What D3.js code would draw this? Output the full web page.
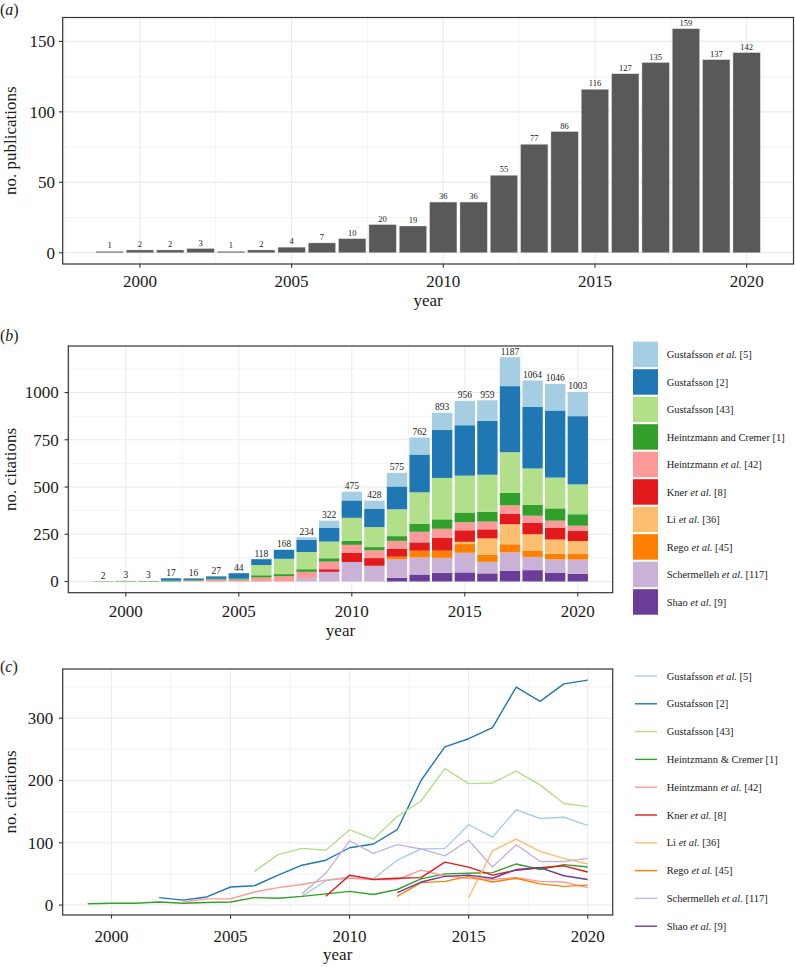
<!DOCTYPE html>
<html><head><meta charset="utf-8">
<script src="https://cdn.jsdelivr.net/npm/d3@7"></script>
<style>
body{margin:0;background:#fff}
svg text{fill:#1a1a1a}
</style>
</head><body>
<svg id="chart" width="795" height="967" xmlns="http://www.w3.org/2000/svg" font-family="'Liberation Serif', 'DejaVu Serif', serif"></svg>
<script>
// ---------- DATA ----------
const years = [1999,2000,2001,2002,2003,2004,2005,2006,2007,2008,2009,2010,2011,2012,2013,2014,2015,2016,2017,2018,2019,2020];
const publications = [1,2,2,3,1,2,4,7,10,20,19,36,36,55,77,86,116,127,135,159,137,142];
const citationTotals = [2,3,3,17,16,27,44,118,168,234,322,475,428,575,762,893,956,959,1187,1064,1046,1003];

const seriesKeys = ["gustafssonEtAl5","gustafsson2","gustafsson43","heintzmannCremer1","heintzmannEtAl42","kner8","li36","rego45","schermelleh117","shao9"];
const seriesLabelsBar = ["Gustafsson et al. [5]","Gustafsson [2]","Gustafsson [43]","Heintzmann and Cremer [1]","Heintzmann et al. [42]","Kner et al. [8]","Li et al. [36]","Rego et al. [45]","Schermelleh et al. [117]","Shao et al. [9]"];
const seriesLabelsLine = ["Gustafsson et al. [5]","Gustafsson [2]","Gustafsson [43]","Heintzmann & Cremer [1]","Heintzmann et al. [42]","Kner et al. [8]","Li et al. [36]","Rego et al. [45]","Schermelleh et al. [117]","Shao et al. [9]"];
const seriesColors = ["#A6CEE3","#1F78B4","#B2DF8A","#33A02C","#FB9A99","#E31A1C","#FDBF6F","#FF7F00","#CAB2D6","#6A3D9A"];

//                        1999 2000 2001 2002 2003 2004 2005 2006 2007 2008 2009 2010 2011 2012 2013 2014 2015 2016 2017 2018 2019 2020
const gustafssonEtAl5   = [null,null,null,null,null,null,null,null,null,  14,  39,  46,  42,  72,  90,  91, 129, 109, 153, 139, 141, 128];
const gustafsson2       = [null,null,null,  12,   8,  13,  29,  31,  48,  64,  72,  92,  98, 121, 200, 254, 267, 285, 350, 327, 355, 361];
const gustafsson43      = [null,null,null,null,null,null,null,  54,  81,  91,  88, 121, 106, 142, 167, 219, 195, 196, 215, 193, 163, 158];
const heintzmannCremer1 = [   2,   3,   3,   5,   3,   4,   5,  12,  11,  14,  18,  22,  17,  25,  42,  50,  51,  52,  66,  57,  65,  61];
const heintzmannEtAl42  = [null,null,null,null,   5,  10,  10,  21,  28,  33,  40,  43,  41,  41,  56,  47,  43,  41,  44,  38,  37,  28];
const kner8             = [null,null,null,null,null,null,null,null,null,null,  14,  48,  41,  43,  44,  69,  61,  48,  56,  60,  63,  53];
const li36              = [null,null,null,null,null,null,null,null,null,null,null,null,null,null,null,null,  12,  87, 106,  86,  75,  66];
const rego45            = [null,null,null,null,null,null,null,null,null,null,null,null,null,  14,  36,  38,  46,  37,  43,  34,  30,  32];
const schermelleh117    = [null,null,null,null,null,null,null,null,null,  18,  51, 103,  83,  97,  90,  79, 104,  61,  97,  70,  70,  75];
const shao9             = [null,null,null,null,null,null,null,null,null,null,null,null,null,  20,  37,  46,  48,  43,  57,  60,  47,  41];

const seriesValues = [gustafssonEtAl5,gustafsson2,gustafsson43,heintzmannCremer1,heintzmannEtAl42,kner8,li36,rego45,schermelleh117,shao9];

const xTicks = [2000,2005,2010,2015,2020];
const xMinor = [1997.5,2002.5,2007.5,2012.5,2017.5];
const pubTicks = [0,50,100,150];
const pubMinor = [25,75,125];
const citeTicks = [0,250,500,750,1000];
const citeMinor = [125,375,625,875,1125];
const lineTicks = [0,100,200,300];
const lineMinor = [50,150,250,350];

// ---------- HELPERS ----------
const FONT = "'Liberation Serif', 'DejaVu Serif', serif";
const svg = d3.select("#chart");
svg.append("rect").attr("width",795).attr("height",967).attr("fill","#fff");
const BORDER = "#333333";
const GRID = "#EBEBEB";

function txt(g){ return g.append("text").attr("font-family",FONT); }
function expandDomain(lo, hi){ const e=(hi-lo)*0.05; return [lo-e, hi+e]; }

function drawGrid(g, x, y, xt, xm, yt, ym){
  const [x0,x1]=x.range(), [y0,y1]=y.range();
  ym.filter(v=>v>=y.domain()[0]&&v<=y.domain()[1]).forEach(v=>g.append("line").attr("x1",x0).attr("x2",x1).attr("y1",y(v)).attr("y2",y(v)).attr("stroke",GRID).attr("stroke-width",0.6));
  xm.filter(v=>v>=x.domain()[0]&&v<=x.domain()[1]).forEach(v=>g.append("line").attr("y1",y0).attr("y2",y1).attr("x1",x(v)).attr("x2",x(v)).attr("stroke",GRID).attr("stroke-width",0.6));
  yt.forEach(v=>g.append("line").attr("x1",x0).attr("x2",x1).attr("y1",y(v)).attr("y2",y(v)).attr("stroke",GRID).attr("stroke-width",1.1));
  xt.forEach(v=>g.append("line").attr("y1",y0).attr("y2",y1).attr("x1",x(v)).attr("x2",x(v)).attr("stroke",GRID).attr("stroke-width",1.1));
}

function drawFrame(g, x, y, xt, yt, xLabBase, yLabGap, yTitle, xTitleBase){
  const [x0,x1]=x.range(), [y0,y1]=y.range();
  g.append("rect").attr("x",x0).attr("y",y1).attr("width",x1-x0).attr("height",y0-y1)
    .attr("fill","none").attr("stroke",BORDER).attr("stroke-width",1.2);
  xt.forEach(v=>{
    g.append("line").attr("x1",x(v)).attr("x2",x(v)).attr("y1",y0).attr("y2",y0+3.7).attr("stroke",BORDER).attr("stroke-width",1.1);
    txt(g).attr("x",x(v)).attr("y",xLabBase).attr("text-anchor","middle").attr("font-size",17).text(v);
  });
  yt.forEach(v=>{
    g.append("line").attr("x1",x0-3.7).attr("x2",x0).attr("y1",y(v)).attr("y2",y(v)).attr("stroke",BORDER).attr("stroke-width",1.1);
    txt(g).attr("x",x0-yLabGap).attr("y",y(v)).attr("dy","0.34em").attr("text-anchor","end").attr("font-size",17).text(v);
  });
  txt(g).attr("transform",`translate(15.5,${(y0+y1)/2}) rotate(-90)`).attr("text-anchor","middle").attr("font-size",17).text(yTitle);
  txt(g).attr("x",(x0+x1)/2).attr("y",xTitleBase).attr("text-anchor","middle").attr("font-size",17).text("year");
}

function panelTag(letter, yb){
  const t = txt(svg).attr("x",0).attr("y",yb).attr("font-size",16);
  t.append("tspan").text("(");
  t.append("tspan").attr("font-style","italic").text(letter);
  t.append("tspan").text(")");
}

function richLabel(sel, label){
  const parts = label.split("et al.");
  parts.forEach((p,i)=>{
    if(p.length) sel.append("tspan").text(p);
    if(i<parts.length-1) sel.append("tspan").attr("font-style","italic").text("et al.");
  });
}

const xDomainBars = expandDomain(years[0]-0.45, years[years.length-1]+0.45);

// ---------- PANEL A ----------
{
  const g = svg.append("g");
  const x = d3.scaleLinear().domain(xDomainBars).range([62.7,793.5]);
  const y = d3.scaleLinear().domain(expandDomain(0, d3.max(publications))).range([264,17.5]);
  drawGrid(g,x,y,xTicks,xMinor,pubTicks,pubMinor);
  const bw = x(0.9)-x(0);
  g.selectAll("rect.bar").data(years).join("rect").attr("class","bar")
    .attr("x",(d)=>x(d)-bw/2).attr("width",bw)
    .attr("y",(d,i)=>y(publications[i])).attr("height",(d,i)=>y(0)-y(publications[i]))
    .attr("fill","#595959").attr("stroke","#d9d9d9").attr("stroke-width",0.4);
  g.selectAll("text.val").data(years).join("text").attr("class","val").attr("font-family",FONT)
    .attr("x",d=>x(d)).attr("y",(d,i)=>y(publications[i])-3)
    .attr("text-anchor","middle").attr("font-size",8.5).attr("fill","#333")
    .text((d,i)=>publications[i]);
  drawFrame(g,x,y,xTicks,pubTicks,287.3,7.7,"no. publications",305.5);
  panelTag("a",14.5);
}

// ---------- PANEL B ----------
{
  const g = svg.append("g");
  const x = d3.scaleLinear().domain(xDomainBars).range([68.3,612.7]);
  const y = d3.scaleLinear().domain(expandDomain(0, d3.max(citationTotals))).range([592.7,346]);
  drawGrid(g,x,y,xTicks,xMinor,citeTicks,citeMinor);
  const rows = years.map((yr,i)=>{ const r={year:yr}; seriesKeys.forEach((k,j)=>r[k]=seriesValues[j][i]||0); return r; });
  const stackKeys = seriesKeys.slice().reverse(); // bottom -> top
  const stacked = d3.stack().keys(stackKeys)(rows);
  const color = d3.scaleOrdinal().domain(seriesKeys).range(seriesColors);
  const bw = x(0.9)-x(0);
  stacked.forEach(layer=>{
    g.selectAll(null).data(layer.filter(d=>d[1]>d[0])).join("rect")
      .attr("x",d=>x(d.data.year)-bw/2).attr("width",bw)
      .attr("y",d=>y(d[1])).attr("height",d=>y(d[0])-y(d[1]))
      .attr("fill",color(layer.key));
  });
  g.selectAll("text.val").data(years).join("text").attr("class","val").attr("font-family",FONT)
    .attr("x",d=>x(d)).attr("y",(d,i)=>y(citationTotals[i])-2.5)
    .attr("text-anchor","middle").attr("font-size",9.5).attr("fill","#333")
    .text((d,i)=>citationTotals[i]);
  drawFrame(g,x,y,xTicks,citeTicks,617.3,9.5,"no. citations",636);
  panelTag("b",341);
  const lg = svg.append("g");
  seriesKeys.forEach((k,i)=>{
    const top = 341.7 + i*27.5;
    lg.append("rect").attr("x",633).attr("y",top).attr("width",25).attr("height",25.5).attr("fill",seriesColors[i]);
    const t = txt(lg).attr("x",666.7).attr("y",top+12.75).attr("dy","0.34em").attr("font-size",10.5);
    richLabel(t, seriesLabelsBar[i]);
  });
}

// ---------- PANEL C ----------
{
  const g = svg.append("g");
  const x = d3.scaleLinear().domain(expandDomain(years[0], years[years.length-1])).range([62.7,612.7]);
  const allVals = seriesValues.flat().filter(v=>v!=null);
  const y = d3.scaleLinear().domain(expandDomain(d3.min(allVals), d3.max(allVals))).range([915,669]);
  drawGrid(g,x,y,xTicks,xMinor,lineTicks,lineMinor);
  const line = d3.line().defined(d=>d.v!=null).x(d=>x(d.year)).y(d=>y(d.v));
  seriesKeys.forEach((k,j)=>{
    const pts = years.map((yr,i)=>({year:yr, v:seriesValues[j][i]}));
    g.append("path").attr("d",line(pts)).attr("fill","none").attr("stroke",seriesColors[j])
      .attr("stroke-width",1.4).attr("stroke-linejoin","round");
  });
  drawFrame(g,x,y,xTicks,lineTicks,941.7,9.4,"no. citations",960);
  panelTag("c",672);
  const lg = svg.append("g");
  seriesKeys.forEach((k,i)=>{
    const cy = 676 + i*27.8;
    lg.append("line").attr("x1",635).attr("x2",657).attr("y1",cy).attr("y2",cy).attr("stroke",seriesColors[i]).attr("stroke-width",1.4);
    const t = txt(lg).attr("x",666.7).attr("y",cy).attr("dy","0.34em").attr("font-size",10.5);
    richLabel(t, seriesLabelsLine[i]);
  });
}
</script>
</body></html>
